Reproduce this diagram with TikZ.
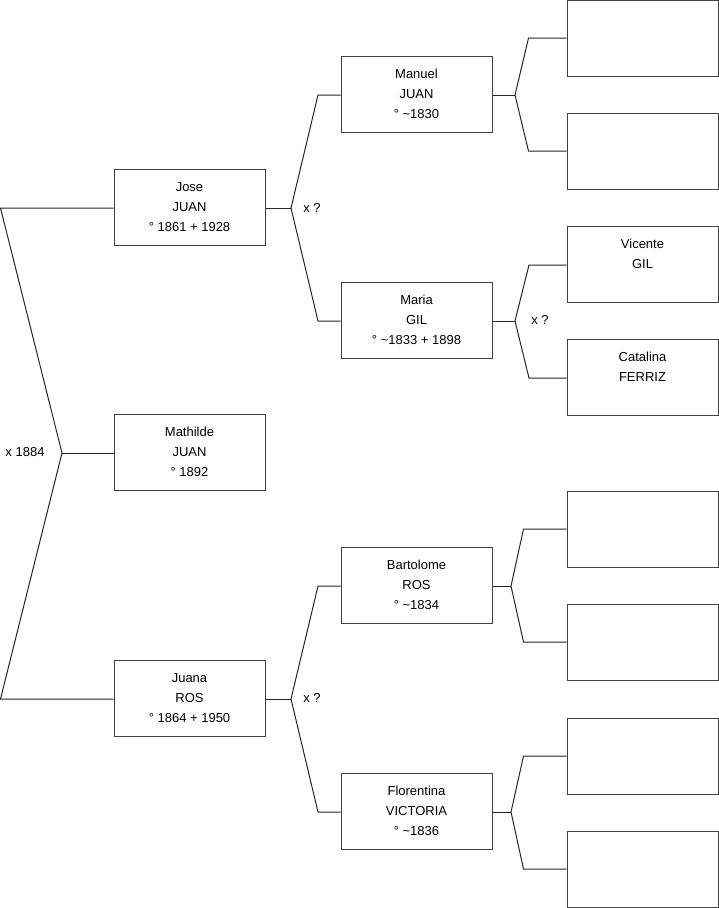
\documentclass[tikz,border=0pt]{standalone}
\usepackage{fontspec}
\setmainfont{Liberation Sans}
\usetikzlibrary{positioning, calc}

\begin{document}
\begin{tikzpicture}[
	x=1pt, y=-1pt,
	every node/.style={font=\fontsize{13}{20}\selectfont},
	person/.style={draw=black!75, line width=1pt, minimum width=151pt, minimum height=76pt, align=center, inner sep=0pt},
	link/.style={draw=black!85, line width=1pt},
	]
	\useasboundingbox (0,0) rectangle (719,908);
	
	% generation 1
	\node[person] (jose) at (189.5,207) {Jose\\JUAN\\° 1861 + 1928};
	\node[person] (mathilde) at (189.5,452) {Mathilde\\JUAN\\° 1892};
	\node[person] (juana) at (189.5,698) {Juana\\ROS\\° 1864 + 1950};
	
	% generation 2
	\node[person] (manuel) at (416.5,94) {Manuel\\JUAN\\° \textasciitilde1830};
	\node[person] (maria) at (416.5,320) {Maria\\GIL\\° \textasciitilde1833 + 1898};
	\node[person] (bartolome) at (416.5,585) {Bartolome\\ROS\\° \textasciitilde1834};
	\node[person] (florentina) at (416.5,811) {Florentina\\VICTORIA\\° \textasciitilde1836};
	
	% generation 3
	\node[person] (manuelF) at (642.5,38) {};
	\node[person] (manuelM) at (642.5,151) {};
	\node[person] (vicente) at (642.5,264) {Vicente\\GIL\\\phantom{X}};
	\node[person] (catalina) at (642.5,377) {Catalina\\FERRIZ\\\phantom{X}};
	\node[person] (bartolomeF) at (642.5,529) {};
	\node[person] (bartolomeM) at (642.5,642) {};
	\node[person] (florentinaF) at (642.5,756) {};
	\node[person] (florentinaM) at (642.5,869) {};
	
	% forks
	\coordinate (rootT) at (0.5,208);
	\coordinate (rootV) at (62,453);
	\coordinate (rootB) at (0.5,699);
	\coordinate (joseV) at (291,208);
	\coordinate (juanaV) at (291,699);
	\coordinate (manuelV) at (515,95);
	\coordinate (mariaV) at (515,321);
	\coordinate (bartolomeV) at (511,586);
	\coordinate (florentinaV) at (511,812);
	
	\draw[link] (jose.west |- rootT) -- (rootT) -- (rootV) -- (rootB) -- (juana.west |- rootB);
	\draw[link] (rootV) -- (mathilde.west |- rootV);
	\node at (25,452) {x 1884};
	
	\draw[link] (jose.east |- joseV) -- (joseV);
	\draw[link] (manuel.west |- 0,95) -- (318,95) -- (joseV) -- (318,321) -- (maria.west |- 0,321);
	\node at (312,208) {x ?};
	
	\draw[link] (juana.east |- juanaV) -- (juanaV);
	\draw[link] (bartolome.west |- 0,586) -- (318,586) -- (juanaV) -- (318,812) -- (florentina.west |- 0,812);
	\node at (312,698) {x ?};
	
	\draw[link] (manuel.east |- manuelV) -- (manuelV);
	\draw[link] (manuelF.west) -- ++(-38,0) -- (manuelV) -- ($(manuelM.west)+(-38,0)$) -- (manuelM.west);
	
	\draw[link] (maria.east |- mariaV) -- (mariaV);
	\draw[link] (vicente.west |- 0,265) -- (529,265) -- (mariaV) -- (529,378) -- (catalina.west |- 0,378);
	\node at (540,320) {x ?};
	
	\draw[link] (bartolome.east |- bartolomeV) -- (bartolomeV);
	\draw[link] (bartolomeF.west) -- ++(-43,0) -- (bartolomeV) -- ($(bartolomeM.west)+(-43,0)$) -- (bartolomeM.west);
	
	\draw[link] (florentina.east |- florentinaV) -- (florentinaV);
	\draw[link] (florentinaF.west) -- ++(-43,0) -- (florentinaV) -- ($(florentinaM.west)+(-43,0)$) -- (florentinaM.west);
	
\end{tikzpicture}
\end{document}
